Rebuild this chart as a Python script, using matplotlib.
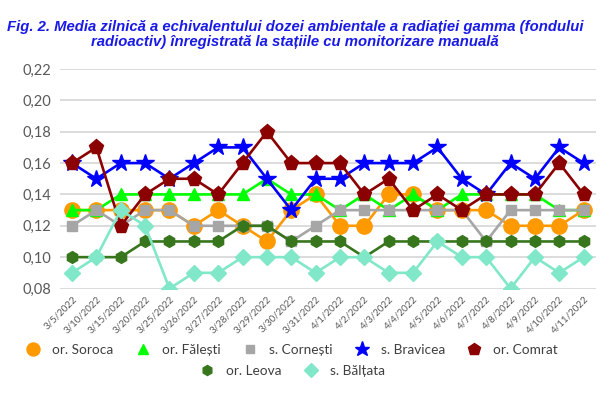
import matplotlib.pyplot as plt
from matplotlib.lines import Line2D

plt.rcParams['font.family'] = ['Lato', 'DejaVu Sans']

dates = ['3/5/2022', '3/10/2022', '3/15/2022', '3/20/2022', '3/25/2022', '3/26/2022',
         '3/27/2022', '3/28/2022', '3/29/2022', '3/30/2022', '3/31/2022', '4/1/2022',
         '4/2/2022', '4/3/2022', '4/4/2022', '4/5/2022', '4/6/2022', '4/7/2022',
         '4/8/2022', '4/9/2022', '4/10/2022', '4/11/2022']

soroca = [0.13, 0.13, 0.13, 0.13, 0.13, 0.12, 0.13, 0.12, 0.11, 0.13, 0.14,
          0.12, 0.12, 0.14, 0.14, 0.13, 0.13, 0.13, 0.12, 0.12, 0.12, 0.13]
falesti = [0.13, 0.13, 0.14, 0.14, 0.14, 0.14, 0.14, 0.14, 0.15, 0.14, 0.14,
           0.13, 0.14, 0.13, 0.14, 0.13, 0.14, 0.14, 0.14, 0.14, 0.13, 0.13]
cornesti = [0.12, 0.13, 0.12, 0.13, 0.13, 0.12, 0.12, 0.12, 0.12, 0.11, 0.12,
            0.13, 0.13, 0.13, 0.13, 0.13, 0.13, 0.11, 0.13, 0.13, 0.13, 0.13]
bravicea = [0.16, 0.15, 0.16, 0.16, 0.15, 0.16, 0.17, 0.17, 0.15, 0.13, 0.15,
            0.15, 0.16, 0.16, 0.16, 0.17, 0.15, 0.14, 0.16, 0.15, 0.17, 0.16]
comrat = [0.16, 0.17, 0.12, 0.14, 0.15, 0.15, 0.14, 0.16, 0.18, 0.16, 0.16,
          0.16, 0.14, 0.15, 0.13, 0.14, 0.13, 0.14, 0.14, 0.14, 0.16, 0.14]
leova = [0.10, 0.10, 0.10, 0.11, 0.11, 0.11, 0.11, 0.12, 0.12, 0.11, 0.11,
         0.11, 0.10, 0.11, 0.11, 0.11, 0.11, 0.11, 0.11, 0.11, 0.11, 0.11]
baltata = [0.09, 0.10, 0.13, 0.12, 0.08, 0.09, 0.09, 0.10, 0.10, 0.10, 0.09,
           0.10, 0.10, 0.09, 0.09, 0.11, 0.10, 0.10, 0.08, 0.10, 0.09, 0.10]

yticks = [0.08, 0.10, 0.12, 0.14, 0.16, 0.18, 0.20, 0.22]

# name, values, colour, marker, marker size
series = [
    ('or. Soroca', soroca, '#FF9900', 'o', 11),
    ('or. Fălești', falesti, '#00FF00', '^', 9),
    ('s. Cornești', cornesti, '#A6A6A6', 's', 7.5),
    ('s. Bravicea', bravicea, '#0000FF', '*', 13),
    ('or. Comrat', comrat, '#8B0000', 'p', 11),
    ('or. Leova', leova, '#38761D', 'h', 8.5),
    ('s. Bălțata', baltata, '#80E8C8', 'D', 8.5),
]

fig = plt.figure(figsize=(6, 3.98), dpi=100)
ax = fig.add_axes([0.0997, 0.2751, 0.8933, 0.5515])

x = range(len(dates))
handles = []
for name, vals, col, mk, ms in series:
    ax.plot(x, vals, color=col, lw=1.9, marker=mk, markersize=ms,
            markerfacecolor=col, markeredgecolor=col, zorder=3)
    handles.append(Line2D([], [], ls='none', marker=mk, markersize=ms * 0.85,
                          color=col, label=name))

ax.set_xlim(-0.5, len(dates) - 0.5)
ax.set_ylim(0.08, 0.22)
ax.set_yticks(yticks)
ax.set_yticklabels([f'{v:.2f}'.replace('.', ',') for v in yticks],
                   fontsize=10.5, color='#595959')
ax.set_xticks(list(x))
ax.set_xticklabels(dates, rotation=45, ha='right', rotation_mode='anchor',
                   fontsize=7, color='#595959')
ax.tick_params(length=0, pad=6)
ax.tick_params(axis='x', pad=4)
ax.grid(axis='y', color='#D9D9D9', lw=1.3)
ax.set_axisbelow(True)
for s in ax.spines.values():
    s.set_visible(False)

fig.text(0.492, 0.913,
         'Fig. 2. Media zilnică a echivalentului dozei ambientale a radiației gamma (fondului\n'
         'radioactiv) înregistrată la stațiile cu monitorizare manuală',
         ha='center', va='center', fontsize=10.7, fontweight='bold', fontstyle='italic',
         color='#1A1AE6', family='Liberation Sans', linespacing=1.06)

fig.legend(handles=handles[:5], loc='center', bbox_to_anchor=(0.486, 0.121),
           ncol=5, frameon=False, fontsize=9.8, labelcolor='#404040',
           handletextpad=0.8, columnspacing=1.55, handlelength=1.2)
fig.legend(handles=handles[5:], loc='center', bbox_to_anchor=(0.486, 0.068),
           ncol=2, frameon=False, fontsize=9.8, labelcolor='#404040',
           handletextpad=0.8, columnspacing=1.55, handlelength=1.2)

fig.savefig('out.png', dpi=100)
